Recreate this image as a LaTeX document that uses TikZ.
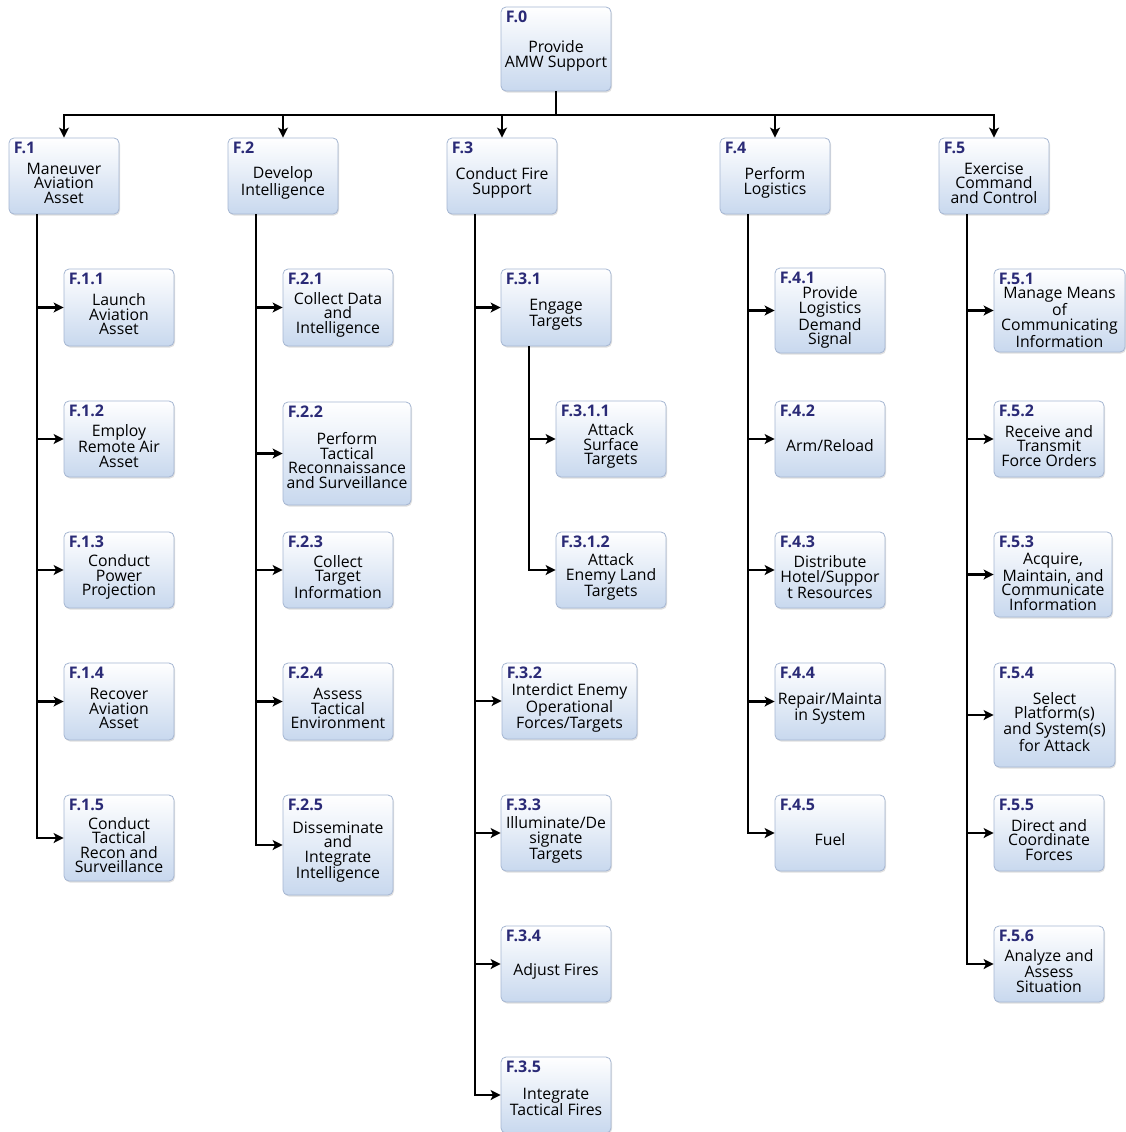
\documentclass[tikz,border=0pt]{standalone}
\usepackage{fontspec}
\setmainfont{Open Sans}
\usepackage{tikz}
\usetikzlibrary{arrows.meta,shadows}

\definecolor{boxline}{RGB}{165,182,210}
\definecolor{boxfill}{RGB}{200,216,238}
\definecolor{idblue}{RGB}{42,42,118}

\tikzset{
  fbox/.style={draw=boxline, line width=0.8pt, rounded corners=5pt,
    top color=white, bottom color=boxfill, minimum width=110pt, minimum height=76pt,
    inner sep=0pt, drop shadow={opacity=0.25, shadow xshift=1pt, shadow yshift=-1.5pt}},
  fid/.style={anchor=north west, inner sep=0pt, xshift=5pt, yshift=-4pt,
    text=idblue, font=\fontsize{16}{16}\selectfont\bfseries},
  ftext/.style={align=center, inner sep=0pt, text=black,
    font=\fontsize{15.8}{14.5}\selectfont},
  link/.style={line width=2.2pt, -{Stealth[length=10pt,width=10pt,inset=2.5pt]}},
  trunk/.style={line width=2.2pt}
}

\begin{document}
\begin{tikzpicture}[x=1pt,y=-1pt]
\useasboundingbox (0,0) rectangle (1125,1132);
% Top function
\node[fbox, minimum height=84pt] (f0) at (556,49) {};
\node[fid] (f0-id) at (f0.north west) {F.0};
\node[ftext] (f0-txt) at ([yshift=-7pt]f0.center) {Provide\\AMW Support};
% First level
\node[fbox] (f1) at (64,176) {};
\node[fid] (f1-id) at (f1.north west) {F.1};
\node[ftext] (f1-txt) at ([yshift=-7pt]f1.center) {Maneuver\\Aviation\\Asset};
\node[fbox] (f2) at (283,176) {};
\node[fid] (f2-id) at (f2.north west) {F.2};
\node[ftext] (f2-txt) at ([yshift=-7pt]f2.center) {Develop\\Intelligence};
\node[fbox] (f3) at (502,176) {};
\node[fid] (f3-id) at (f3.north west) {F.3};
\node[ftext] (f3-txt) at ([yshift=-7pt]f3.center) {Conduct Fire\\Support};
\node[fbox] (f4) at (775,176) {};
\node[fid] (f4-id) at (f4.north west) {F.4};
\node[ftext] (f4-txt) at ([yshift=-7pt]f4.center) {Perform\\Logistics};
\node[fbox] (f5) at (994,176) {};
\node[fid] (f5-id) at (f5.north west) {F.5};
\node[ftext] (f5-txt) at ([yshift=-7pt]f5.center) {Exercise\\Command\\and Control};
%
% F.1 branch
\node[fbox, minimum height=77pt] (f11) at (119,307.5) {};
\node[fid] (f11-id) at (f11.north west) {F.1.1};
\node[ftext] (f11-txt) at ([yshift=-7pt]f11.center) {Launch\\Aviation\\Asset};
\node[fbox] (f12) at (119,439) {};
\node[fid] (f12-id) at (f12.north west) {F.1.2};
\node[ftext] (f12-txt) at ([yshift=-7pt]f12.center) {Employ\\Remote Air\\Asset};
\node[fbox] (f13) at (119,570) {};
\node[fid] (f13-id) at (f13.north west) {F.1.3};
\node[ftext] (f13-txt) at ([yshift=-7pt]f13.center) {Conduct\\Power\\Projection};
\node[fbox, minimum height=77pt] (f14) at (119,701.5) {};
\node[fid] (f14-id) at (f14.north west) {F.1.4};
\node[ftext] (f14-txt) at ([yshift=-7pt]f14.center) {Recover\\Aviation\\Asset};
\node[fbox, minimum height=86pt] (f15) at (119,838) {};
\node[fid] (f15-id) at (f15.north west) {F.1.5};
\node[ftext] (f15-txt) at ([yshift=-7pt]f15.center) {Conduct\\Tactical\\Recon and\\Surveillance};
%
% F.2 branch
\node[fbox, minimum height=77pt] (f21) at (338,307.5) {};
\node[fid] (f21-id) at (f21.north west) {F.2.1};
\node[ftext] (f21-txt) at ([yshift=-7pt]f21.center) {Collect Data\\and\\Intelligence};
\node[fbox, minimum width=128pt, minimum height=103pt] (f22) at (347,453.5) {};
\node[fid] (f22-id) at (f22.north west) {F.2.2};
\node[ftext] (f22-txt) at ([yshift=-7pt]f22.center) {Perform\\Tactical\\Reconnaissance\\and Surveillance};
\node[fbox] (f23) at (338,570) {};
\node[fid] (f23-id) at (f23.north west) {F.2.3};
\node[ftext] (f23-txt) at ([yshift=-7pt]f23.center) {Collect\\Target\\Information};
\node[fbox, minimum height=77pt] (f24) at (338,701.5) {};
\node[fid] (f24-id) at (f24.north west) {F.2.4};
\node[ftext] (f24-txt) at ([yshift=-7pt]f24.center) {Assess\\Tactical\\Environment};
\node[fbox, minimum height=100pt] (f25) at (338,845) {};
\node[fid] (f25-id) at (f25.north west) {F.2.5};
\node[ftext] (f25-txt) at ([yshift=-7pt]f25.center) {Disseminate\\and\\Integrate\\Intelligence};
%
% F.3 branch
\node[fbox, minimum height=77pt] (f31) at (556,307.5) {};
\node[fid] (f31-id) at (f31.north west) {F.3.1};
\node[ftext] (f31-txt) at ([yshift=-7pt]f31.center) {Engage\\Targets};
\node[fbox] (f311) at (611,439) {};
\node[fid] (f311-id) at (f311.north west) {F.3.1.1};
\node[ftext] (f311-txt) at ([yshift=-7pt]f311.center) {Attack\\Surface\\Targets};
\node[fbox] (f312) at (611,570) {};
\node[fid] (f312-id) at (f312.north west) {F.3.1.2};
\node[ftext] (f312-txt) at ([yshift=-7pt]f312.center) {Attack\\Enemy Land\\Targets};
\node[fbox, minimum width=135pt] (f32) at (569.5,701) {};
\node[fid] (f32-id) at (f32.north west) {F.3.2};
\node[ftext] (f32-txt) at ([yshift=-7pt]f32.center) {Interdict Enemy\\Operational\\Forces/Targets};
\node[fbox] (f33) at (556,833) {};
\node[fid] (f33-id) at (f33.north west) {F.3.3};
\node[ftext] (f33-txt) at ([yshift=-7pt]f33.center) {Illuminate/De\\signate\\Targets};
\node[fbox] (f34) at (556,964) {};
\node[fid] (f34-id) at (f34.north west) {F.3.4};
\node[ftext] (f34-txt) at ([yshift=-7pt]f34.center) {Adjust Fires};
\node[fbox, minimum height=76pt] (f35) at (556,1095) {};
\node[fid] (f35-id) at (f35.north west) {F.3.5};
\node[ftext] (f35-txt) at ([yshift=-7pt]f35.center) {Integrate\\Tactical Fires};
%
% F.4 branch
\node[fbox, minimum height=85pt] (f41) at (830,310.5) {};
\node[fid] (f41-id) at (f41.north west) {F.4.1};
\node[ftext] (f41-txt) at ([yshift=-7pt]f41.center) {Provide\\Logistics\\Demand\\Signal};
\node[fbox] (f42) at (830,439) {};
\node[fid] (f42-id) at (f42.north west) {F.4.2};
\node[ftext] (f42-txt) at ([yshift=-7pt]f42.center) {Arm/Reload};
\node[fbox] (f43) at (830,570) {};
\node[fid] (f43-id) at (f43.north west) {F.4.3};
\node[ftext] (f43-txt) at ([yshift=-7pt]f43.center) {Distribute\\Hotel/Suppor\\t Resources};
\node[fbox, minimum height=77pt] (f44) at (830,701.5) {};
\node[fid] (f44-id) at (f44.north west) {F.4.4};
\node[ftext] (f44-txt) at ([yshift=-7pt]f44.center) {Repair/Mainta\\in System};
\node[fbox] (f45) at (830,833) {};
\node[fid] (f45-id) at (f45.north west) {F.4.5};
\node[ftext] (f45-txt) at ([yshift=-7pt]f45.center) {Fuel};
%
% F.5 branch
\node[fbox, minimum width=131pt, minimum height=83pt] (f51) at (1059.5,310.5) {};
\node[fid] (f51-id) at (f51.north west) {F.5.1};
\node[ftext] (f51-txt) at ([yshift=-7pt]f51.center) {Manage Means\\of\\Communicating\\Information};
\node[fbox] (f52) at (1049,439) {};
\node[fid] (f52-id) at (f52.north west) {F.5.2};
\node[ftext] (f52-txt) at ([yshift=-7pt]f52.center) {Receive and\\Transmit\\Force Orders};
\node[fbox, minimum width=118pt, minimum height=85pt] (f53) at (1053,574.5) {};
\node[fid] (f53-id) at (f53.north west) {F.5.3};
\node[ftext] (f53-txt) at ([yshift=-7pt]f53.center) {Acquire,\\Maintain, and\\Communicate\\Information};
\node[fbox, minimum width=121pt, minimum height=104pt] (f54) at (1054.5,715) {};
\node[fid] (f54-id) at (f54.north west) {F.5.4};
\node[ftext] (f54-txt) at ([yshift=-7pt]f54.center) {Select\\Platform(s)\\and System(s)\\for Attack};
\node[fbox] (f55) at (1049,833) {};
\node[fid] (f55-id) at (f55.north west) {F.5.5};
\node[ftext] (f55-txt) at ([yshift=-7pt]f55.center) {Direct and\\Coordinate\\Forces};
\node[fbox] (f56) at (1049,964) {};
\node[fid] (f56-id) at (f56.north west) {F.5.6};
\node[ftext] (f56-txt) at ([yshift=-7pt]f56.center) {Analyze and\\Assess\\Situation};
%
% Connectors
\coordinate (bus) at (556,115);
\draw[link] (f0.south) -- (bus) -| (f1.north);
\draw[link] (f0.south) -- (bus) -| (f2.north);
\draw[link] (f0.south) -- (bus) -| (f3.north);
\draw[link] (f0.south) -- (bus) -| (f4.north);
\draw[link] (f0.south) -- (bus) -| (f5.north);
% trunks
\coordinate (t1) at ([xshift=-27pt]f1.south);
\coordinate (t2) at ([xshift=-27pt]f2.south);
\coordinate (t3) at ([xshift=-27pt]f3.south);
\coordinate (t31) at ([xshift=-27pt]f31.south);
\coordinate (t4) at ([xshift=-27pt]f4.south);
\coordinate (t5) at ([xshift=-27pt]f5.south);
\draw[link] (t1) |- (f11.west);
\draw[link] (t1) |- (f12.west);
\draw[link] (t1) |- (f13.west);
\draw[link] (t1) |- (f14.west);
\draw[link] (t1) |- (f15.west);
\draw[link] (t2) |- (f21.west);
\draw[link] (t2) |- (f22.west);
\draw[link] (t2) |- (f23.west);
\draw[link] (t2) |- (f24.west);
\draw[link] (t2) |- (f25.west);
\draw[link] (t3) |- (f31.west);
\draw[link] (t31) |- (f311.west);
\draw[link] (t31) |- (f312.west);
\draw[link] (t3) |- (f32.west);
\draw[link] (t3) |- (f33.west);
\draw[link] (t3) |- (f34.west);
\draw[link] (t3) |- (f35.west);
\draw[link] (t4) |- (f41.west);
\draw[link] (t4) |- (f42.west);
\draw[link] (t4) |- (f43.west);
\draw[link] (t4) |- (f44.west);
\draw[link] (t4) |- (f45.west);
\draw[link] (t5) |- (f51.west);
\draw[link] (t5) |- (f52.west);
\draw[link] (t5) |- (f53.west);
\draw[link] (t5) |- (f54.west);
\draw[link] (t5) |- (f55.west);
\draw[link] (t5) |- (f56.west);
\end{tikzpicture}
\end{document}
